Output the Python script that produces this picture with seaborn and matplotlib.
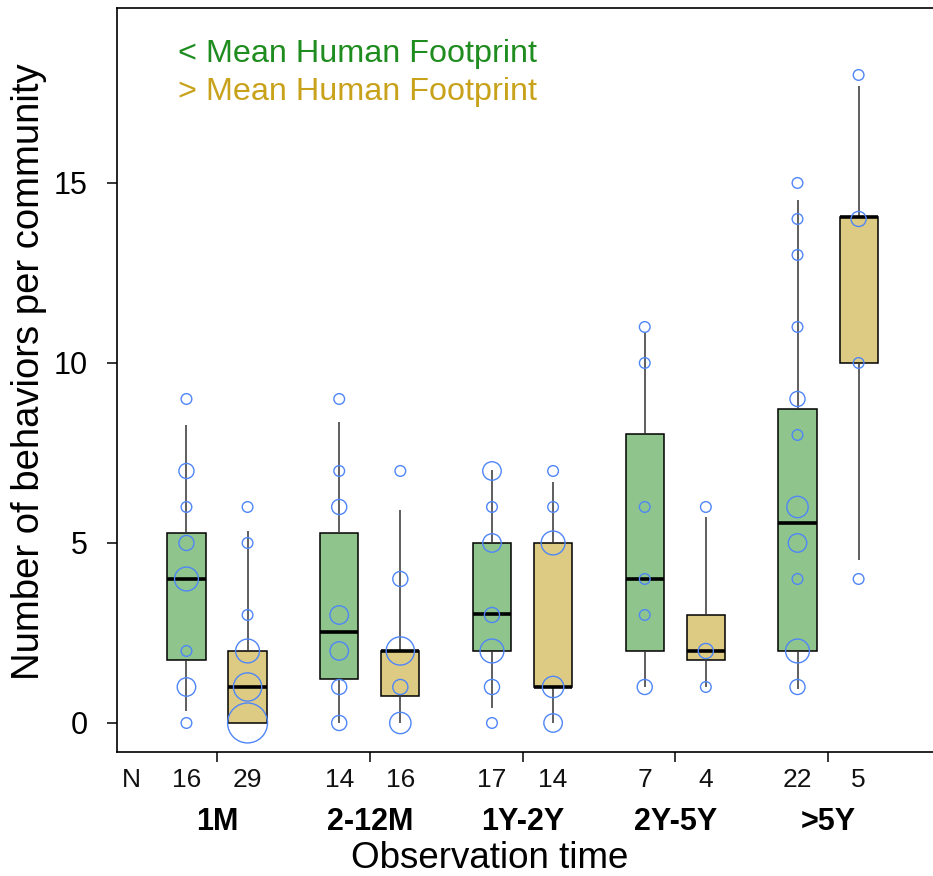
import numpy as np
import pandas as pd
import matplotlib
matplotlib.use("Agg")
import matplotlib.pyplot as plt
import seaborn as sns
from matplotlib.transforms import blended_transform_factory

# ---------------- data ----------------
periods = ["1M", "2-12M", "1Y-2Y", "2Y-5Y", ">5Y"]
groups = ["low", "high"]
group_labels = ["< Mean Human Footprint", "> Mean Human Footprint"]
n_low = [16, 14, 17, 7, 22]
n_high = [29, 16, 14, 4, 5]

# box summaries: lower whisker, lower hinge, median, upper hinge, upper whisker
box_low = [
    [0.33, 1.75, 4.00, 5.27, 8.28],
    [0.00, 1.22, 2.52, 5.27, 8.37],
    [0.41, 2.00, 3.04, 5.00, 7.03],
    [1.00, 2.00, 4.00, 8.02, 10.87],
    [0.94, 2.00, 5.55, 8.72, 14.52],
]
box_high = [
    [0.00, 0.00, 1.00, 2.00, 5.34],
    [0.00, 0.75, 2.00, 2.00, 5.92],
    [0.00, 1.00, 1.00, 5.00, 6.69],
    [1.00, 1.75, 2.00, 3.00, 5.73],
    [4.53, 10.00, 14.06, 14.06, 17.70],
]

# observed values and number of communities with that value
vals_low = [
    [0, 1, 2, 4, 5, 6, 7, 9],
    [0, 1, 2, 3, 6, 7, 9],
    [0, 1, 2, 3, 5, 6, 7],
    [1, 3, 4, 6, 10, 11],
    [1, 2, 4, 5, 6, 8, 9, 11, 13, 14, 15],
]
cnt_low = [
    [1, 3, 1, 5, 2, 1, 2, 1],
    [2, 2, 3, 3, 2, 1, 1],
    [1, 2, 5, 2, 3, 1, 3],
    [2, 1, 1, 1, 1, 1],
    [2, 5, 1, 3, 4, 1, 2, 1, 1, 1, 1],
]
vals_high = [
    [0, 1, 2, 3, 5, 6],
    [0, 1, 2, 4, 7],
    [0, 1, 5, 6, 7],
    [1, 2, 6],
    [4, 10, 14, 18],
]
cnt_high = [
    [14, 7, 5, 1, 1, 1],
    [4, 2, 7, 2, 1],
    [3, 4, 5, 1, 1],
    [1, 2, 1],
    [1, 1, 2, 1],
]

# ---------------- styling ----------------
sns.set_theme(style="ticks")
plt.rcParams["font.family"] = ["Liberation Sans", "DejaVu Sans"]
plt.rcParams["text.color"] = "black"
plt.rcParams["axes.labelcolor"] = "black"
plt.rcParams["xtick.color"] = "black"
plt.rcParams["ytick.color"] = "black"

green_fill = "#8fc48d"
yellow_fill = "#decb83"
green_text = "#1f8c1f"
gold_text = "#c9a21b"
circle_col = "#4f86f7"

# ---------------- tables ----------------
box_rows = []
for g, table in zip(groups, [box_low, box_high]):
    for p, stats in zip(periods, table):
        for v in stats:
            box_rows.append({"period": p, "group": g, "value": v})
box_df = pd.DataFrame(box_rows)

dodge = {"low": -0.2, "high": 0.2}
pt_rows = []
for g, vals, cnts in zip(groups, [vals_low, vals_high], [cnt_low, cnt_high]):
    for i, (vv, cc) in enumerate(zip(vals, cnts)):
        for v, c in zip(vv, cc):
            pt_rows.append({"pos": i + dodge[g], "value": v, "count": c, "group": g})
pt_df = pd.DataFrame(pt_rows)

# ---------------- figure ----------------
W, H = 933, 876
fig = plt.figure(figsize=(W / 100, H / 100), dpi=100)
ax = fig.add_axes([117 / W, 1 - 752 / H, 1 - 117 / W, 744 / H])

sns.boxplot(
    data=box_df, x="period", y="value", hue="group",
    order=periods, hue_order=groups,
    palette={"low": green_fill, "high": yellow_fill}, saturation=1,
    width=0.8, gap=0.375, dodge=True, whis=np.inf,
    linecolor="black", linewidth=1.1, legend=False, ax=ax,
    medianprops=dict(color="black", linewidth=2.6),
    whiskerprops=dict(color="#333333", linewidth=1.1),
    capprops=dict(visible=False),
)

n_before = len(ax.collections)
sns.scatterplot(
    data=pt_df, x="pos", y="value", size="count",
    sizes=(59, 59 * 14), size_norm=(1, 14),
    legend=False, ax=ax, linewidth=1.0, zorder=5,
)
for coll in ax.collections[n_before:]:
    coll.set_facecolor("none")
    coll.set_edgecolor(circle_col)
    coll.set_linewidth(1.0)

ax.set_xlim(-0.6547, 4.687)
ax.set_ylim(-0.806, 19.86)

ax.set_xticks(range(len(periods)))
ax.set_xticklabels([])
ax.set_yticks([0, 5, 10, 15])
ax.set_yticklabels(["0", "5", "10", "15"])
ax.tick_params(axis="x", length=7, width=1.1, direction="out", color="black")
ax.tick_params(axis="y", length=7, width=1.1, direction="out", color="black",
               labelsize=22, pad=14, labelcolor="black")

for s in ["left", "bottom", "top"]:
    ax.spines[s].set_visible(True)
    ax.spines[s].set_color("black")
    ax.spines[s].set_linewidth(1.2)
ax.spines["right"].set_visible(False)

# N counts and period labels
tr = blended_transform_factory(ax.transData, ax.transAxes)
ax.text(-0.563, -0.0466, "N", transform=tr, ha="center", va="baseline",
        fontsize=19, color="#111111")
for i, p in enumerate(periods):
    ax.text(i + dodge["low"], -0.0466, str(n_low[i]), transform=tr,
            ha="center", va="baseline", fontsize=19, color="#111111")
    ax.text(i + dodge["high"], -0.0466, str(n_high[i]), transform=tr,
            ha="center", va="baseline", fontsize=19, color="#111111")
    ax.text(i, -0.1048, p, transform=tr, ha="center", va="baseline",
            fontsize=22, fontweight="bold", color="black")

ax.set_xlabel("Observation time", fontsize=26.5, va="baseline", color="black")
ax.xaxis.set_label_coords(0.457, -0.156)
ax.set_ylabel("Number of behaviors per community", fontsize=27.5, va="center",
              ha="center", color="black")
ax.yaxis.set_label_coords(-0.1078, 0.511)

# colour key
ax.text(0.0748, 0.928, group_labels[0], transform=ax.transAxes, color=green_text,
        fontsize=23.3, ha="left", va="baseline")
ax.text(0.0748, 0.876, group_labels[1], transform=ax.transAxes, color=gold_text,
        fontsize=23.3, ha="left", va="baseline")

fig.savefig("out.png", dpi=100)
